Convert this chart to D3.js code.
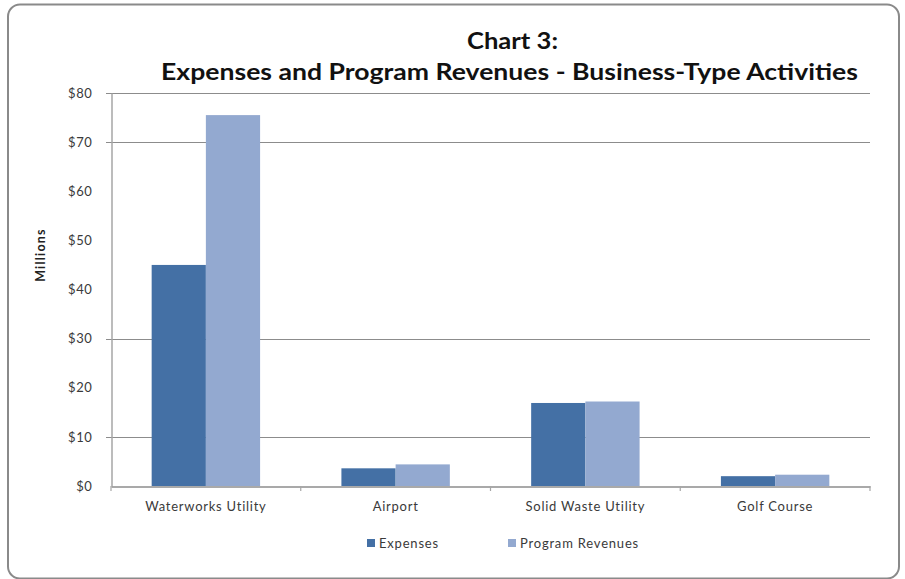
<!DOCTYPE html>
<html>
<head>
<meta charset="utf-8">
<script src="https://cdn.jsdelivr.net/npm/d3@7"></script>
<style>
  html, body { margin: 0; padding: 0; background: #fff; }
  svg { display: block; }
</style>
</head>
<body>
<svg id="chart" width="905" height="579"></svg>
<script>
// Business-type activities, in millions of dollars
const categories = ["Waterworks Utility", "Airport", "Solid Waste Utility", "Golf Course"];
const seriesNames = ["Expenses", "Program Revenues"];
const expenses = [45.0, 3.6, 16.9, 2.0];
const programRevenues = [75.5, 4.4, 17.2, 2.3];
const yTicks = [0, 10, 20, 30, 40, 50, 60, 70, 80];
const yTickLabels = ["$0", "$10", "$20", "$30", "$40", "$50", "$60", "$70", "$80"];
const gridValues = [10, 30, 70, 80];
const seriesColors = ["#4470A5", "#93A9D0"];

const rows = categories.map((c, i) => ({
  category: c,
  values: [expenses[i], programRevenues[i]]
}));

const svg = d3.select("#chart");
const font = "Lato, 'Open Sans', 'DejaVu Sans', sans-serif";

// outer rounded frame
svg.append("rect")
  .attr("x", 8).attr("y", 4.5)
  .attr("width", 891).attr("height", 574)
  .attr("rx", 12).attr("ry", 12)
  .attr("fill", "#fff")
  .attr("stroke", "#8a8a8a")
  .attr("stroke-width", 2);

const plot = { left: 111, right: 870, top: 93, bottom: 486 };

const y = d3.scaleLinear().domain([0, 80]).range([plot.bottom, plot.top]);
const x0 = d3.scaleBand()
  .domain(categories)
  .range([plot.left, plot.right])
  .paddingInner(1.5 / 3.5)
  .paddingOuter(0.75 / 3.5);
const x1 = d3.scaleBand()
  .domain(seriesNames)
  .range([0, x0.bandwidth()]);

// horizontal gridlines (with their tick marks)
svg.append("g")
  .selectAll("line")
  .data(gridValues)
  .join("line")
  .attr("x1", plot.left - 5)
  .attr("x2", plot.right)
  .attr("y1", d => Math.round(y(d)) + 0.5)
  .attr("y2", d => Math.round(y(d)) + 0.5)
  .attr("stroke", "#8c8c8c")
  .attr("stroke-width", 1.2);

// bars
const groups = svg.append("g")
  .selectAll("g")
  .data(rows)
  .join("g")
  .attr("transform", d => `translate(${x0(d.category)},0)`);

groups.selectAll("rect")
  .data(d => d.values.map((v, i) => ({ key: seriesNames[i], value: v, i })))
  .join("rect")
  .attr("x", d => x1(d.key))
  .attr("width", x1.bandwidth())
  .attr("y", d => y(d.value))
  .attr("height", d => y(0) - y(d.value))
  .attr("fill", d => seriesColors[d.i]);

// y axis
const yAxis = d3.axisLeft(y)
  .tickValues(yTicks)
  .tickFormat((d, i) => yTickLabels[i])
  .tickSize(0)
  .tickPadding(19);

const gy = svg.append("g")
  .attr("transform", `translate(${plot.left + 0.5},0)`)
  .call(yAxis);
gy.select(".domain").attr("stroke", "#a6a6a6").attr("stroke-width", 1.5);
gy.selectAll("text")
  .attr("font-family", font)
  .attr("font-size", 13)
  .attr("letter-spacing", 0.6)
  .attr("fill", "#3a3a3a");

// x axis
const xAxis = d3.axisBottom(x0).tickSize(0).tickPadding(15);
const gx = svg.append("g")
  .attr("transform", `translate(0,${plot.bottom + 0.5})`)
  .call(xAxis);
gx.select(".domain").attr("stroke", "#8c8c8c").attr("stroke-width", 1.5);
gx.selectAll("text")
  .attr("font-family", font)
  .attr("font-size", 13)
  .attr("letter-spacing", 0.75)
  .attr("fill", "#3a3a3a");

// category boundary ticks
const step = x0.step();
svg.append("g")
  .selectAll("line")
  .data(d3.range(categories.length + 1))
  .join("line")
  .attr("x1", i => plot.left + i * step)
  .attr("x2", i => plot.left + i * step)
  .attr("y1", plot.bottom)
  .attr("y2", plot.bottom + 5)
  .attr("stroke", "#a6a6a6")
  .attr("stroke-width", 1.2);

// y axis title
svg.append("text")
  .attr("transform", "translate(45,255) rotate(-90)")
  .attr("text-anchor", "middle")
  .attr("font-family", font)
  .attr("font-weight", "bold")
  .attr("font-size", 12.5)
  .attr("letter-spacing", 1.2)
  .attr("fill", "#222")
  .text("Millions");

// chart title
svg.append("text")
  .attr("x", 512.5).attr("y", 49)
  .attr("text-anchor", "middle")
  .attr("font-family", font)
  .attr("font-weight", "bold")
  .attr("font-size", 22)
  .attr("fill", "#111")
  .attr("textLength", 91)
  .attr("lengthAdjust", "spacingAndGlyphs")
  .text("Chart 3:");

svg.append("text")
  .attr("x", 509.5).attr("y", 80)
  .attr("text-anchor", "middle")
  .attr("font-family", font)
  .attr("font-weight", "bold")
  .attr("font-size", 22)
  .attr("fill", "#111")
  .attr("textLength", 697)
  .attr("lengthAdjust", "spacingAndGlyphs")
  .text("Expenses and Program Revenues - Business-Type Activities");

// legend
const legendX = [367, 508];
const legend = svg.append("g")
  .selectAll("g")
  .data(seriesNames)
  .join("g")
  .attr("transform", (d, i) => `translate(${legendX[i]},539)`);

legend.append("rect")
  .attr("width", 8).attr("height", 8)
  .attr("fill", (d, i) => seriesColors[i]);

legend.append("text")
  .attr("x", 12).attr("y", 9)
  .attr("font-family", font)
  .attr("font-size", 13)
  .attr("letter-spacing", 0.8)
  .attr("fill", "#3a3a3a")
  .text(d => d);
</script>
</body>
</html>
